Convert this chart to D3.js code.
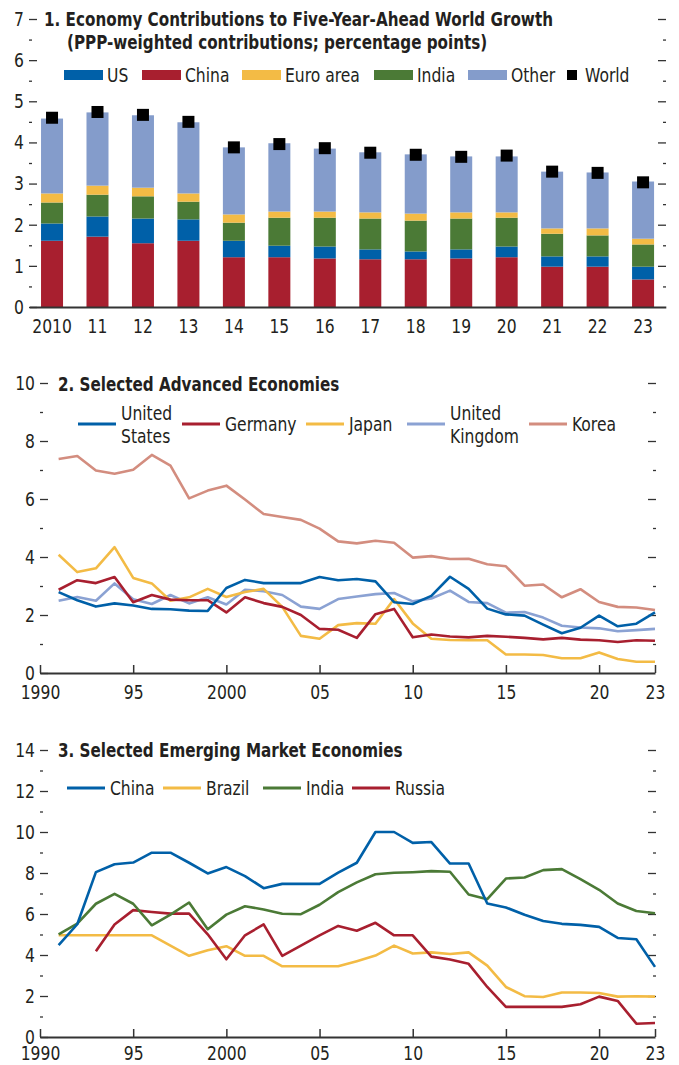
<!DOCTYPE html>
<html>
<head>
<meta charset="utf-8">
<script src="https://cdn.jsdelivr.net/npm/d3@7"></script>
<style>
  body { margin: 0; background: #fff; }
  svg text { font-family: 'Liberation Sans Narrow', 'Arial Narrow', 'DejaVu Sans Condensed', sans-serif; fill: #231f20; }
</style>
</head>
<body>
<div id="chart"></div>
<script>
// panel 1 data (percentage points)
var years1 = ["2010", "11", "12", "13", "14", "15", "16", "17", "18", "19", "20", "21", "22", "23"];
var china = [1.61, 1.71, 1.55, 1.61, 1.21, 1.21, 1.18, 1.16, 1.16, 1.18, 1.21, 0.98, 0.98, 0.67];
var us = [0.42, 0.49, 0.60, 0.52, 0.40, 0.28, 0.29, 0.24, 0.19, 0.22, 0.26, 0.25, 0.25, 0.31];
var india = [0.51, 0.53, 0.54, 0.43, 0.44, 0.68, 0.70, 0.75, 0.75, 0.75, 0.70, 0.55, 0.51, 0.54];
var euroArea = [0.22, 0.22, 0.21, 0.20, 0.20, 0.15, 0.15, 0.15, 0.17, 0.15, 0.13, 0.13, 0.17, 0.14];
var other = [1.82, 1.78, 1.76, 1.73, 1.63, 1.66, 1.53, 1.46, 1.44, 1.36, 1.36, 1.38, 1.36, 1.39];
var world = [4.60, 4.74, 4.67, 4.50, 3.88, 3.96, 3.86, 3.75, 3.70, 3.65, 3.68, 3.29, 3.26, 3.03];

// panels 2 and 3: 1991-2023
var years2 = d3.range(1991, 2024);
var usLine = [2.79, 2.51, 2.29, 2.40, 2.33, 2.21, 2.20, 2.15, 2.14, 2.93, 3.21, 3.10, 3.10, 3.10, 3.31,
  3.20, 3.24, 3.16, 2.44, 2.38, 2.66, 3.32, 2.90, 2.22, 2.02, 1.98, 1.67, 1.37, 1.56, 1.98, 1.61, 1.70, 2.09];
var germany = [2.87, 3.20, 3.10, 3.31, 2.44, 2.69, 2.53, 2.51, 2.51, 2.09, 2.61, 2.41, 2.28, 2.00, 1.52,
  1.49, 1.21, 2.03, 2.21, 1.23, 1.33, 1.26, 1.23, 1.28, 1.25, 1.21, 1.16, 1.21, 1.15, 1.13, 1.07, 1.13, 1.11];
var japan = [4.08, 3.48, 3.61, 4.34, 3.28, 3.09, 2.49, 2.61, 2.90, 2.62, 2.79, 2.90, 2.28, 1.28, 1.18,
  1.65, 1.72, 1.70, 2.55, 1.71, 1.18, 1.14, 1.13, 1.13, 0.64, 0.64, 0.62, 0.51, 0.51, 0.71, 0.48, 0.39, 0.39];
var uk = [2.49, 2.62, 2.49, 3.09, 2.54, 2.38, 2.69, 2.40, 2.61, 2.36, 2.87, 2.82, 2.69, 2.29, 2.21,
  2.55, 2.64, 2.72, 2.76, 2.47, 2.57, 2.84, 2.45, 2.41, 2.08, 2.10, 1.91, 1.63, 1.57, 1.54, 1.44, 1.48, 1.52];
var korea = [7.38, 7.48, 6.98, 6.87, 7.01, 7.52, 7.15, 6.02, 6.29, 6.46, 5.98, 5.48, 5.38, 5.28, 4.98,
  4.54, 4.47, 4.56, 4.49, 3.98, 4.03, 3.93, 3.94, 3.75, 3.68, 3.01, 3.05, 2.61, 2.89, 2.45, 2.28, 2.26, 2.17];

var chinaLine = [4.48, 5.50, 8.04, 8.43, 8.51, 8.99, 8.99, 8.50, 7.98, 8.29, 7.85, 7.26, 7.47, 7.47, 7.47,
  8.02, 8.50, 10.0, 10.0, 9.47, 9.51, 8.46, 8.46, 6.51, 6.32, 5.96, 5.66, 5.52, 5.47, 5.37, 4.83, 4.77, 3.42];
var brazil = [4.96, 4.96, 4.96, 4.96, 4.96, 4.96, 4.46, 3.96, 4.23, 4.43, 3.96, 3.96, 3.45, 3.45, 3.45,
  3.45, 3.70, 3.97, 4.46, 4.07, 4.13, 4.05, 4.13, 3.48, 2.44, 1.99, 1.95, 2.17, 2.17, 2.15, 1.97, 1.99, 1.97];
var indiaLine = [5.01, 5.53, 6.50, 6.98, 6.50, 5.45, 5.97, 6.56, 5.26, 5.97, 6.38, 6.22, 6.01, 5.99, 6.45,
  7.07, 7.54, 7.94, 8.01, 8.04, 8.09, 8.06, 6.95, 6.72, 7.73, 7.78, 8.14, 8.19, 7.70, 7.18, 6.51, 6.15, 6.04];
var russia = [null, null, 4.18, 5.49, 6.19, 6.10, 6.02, 6.02, 5.01, 3.79, 4.96, 5.49, 3.96, 4.46, 4.96,
  5.42, 5.18, 5.57, 4.96, 4.96, 3.92, 3.78, 3.57, 2.44, 1.47, 1.47, 1.47, 1.47, 1.60, 1.97, 1.76, 0.65, 0.68];

var xTicks = [1990, 1995, 2000, 2005, 2010, 2015, 2020, 2023];

var col = {
  blue: "#0060a8", red: "#a81f2f", yellow: "#f3bb45", green: "#4b7a36",
  lightBlue: "#849ccb", ukBlue: "#8ba2d3", korea: "#d38d7f"
};
var axisCol = "#333";

var svg = d3.select("#chart").append("svg")
  .attr("width", 679)
  .attr("height", 1065);

function yearLabel(y) {
  return (y == 1990 || y == 2000) ? String(y) : String(y).slice(2);
}

// left & right tick marks (major labelled, minor not)
function yTicks(y, left, right, max, step) {
  var major = d3.range(0, max + 0.001, step);
  var minor = d3.range(step / 2, max, step);
  svg.append("g")
    .attr("transform", "translate(" + left + ",0)")
    .call(d3.axisLeft(y).tickValues(major).tickSize(-8).tickPadding(5).tickFormat(d3.format("d")))
    .call(function(g) { g.select(".domain").remove(); })
    .call(function(g) {
      g.selectAll("line").attr("stroke", axisCol).attr("stroke-width", 1.3);
      g.selectAll("text").style("font-size", "20px").attr("fill", "#231f20");
    });
  svg.append("g")
    .attr("transform", "translate(" + left + ",0)")
    .call(d3.axisLeft(y).tickValues(minor).tickSize(-3).tickFormat(""))
    .call(function(g) { g.select(".domain").remove(); g.selectAll("line").attr("stroke", axisCol).attr("stroke-width", 1.3); });
  svg.append("g")
    .attr("transform", "translate(" + right + ",0)")
    .call(d3.axisRight(y).tickValues(major.slice(1)).tickSize(-8).tickFormat(""))
    .call(function(g) { g.select(".domain").remove(); g.selectAll("line").attr("stroke", axisCol).attr("stroke-width", 1.3); });
  svg.append("g")
    .attr("transform", "translate(" + right + ",0)")
    .call(d3.axisRight(y).tickValues(minor).tickSize(-3).tickFormat(""))
    .call(function(g) { g.select(".domain").remove(); g.selectAll("line").attr("stroke", axisCol).attr("stroke-width", 1.3); });
}

//=== Panel 1: stacked bars
var x1 = d3.scaleBand().domain(years1).range([29.3, 665.8]).paddingInner(0.516).paddingOuter(0.258);
var y1 = d3.scaleLinear().domain([0, 7]).range([307, 19]);

var rows = years1.map(function(yr, i) {
  return { year: yr, China: china[i], US: us[i], India: india[i], Euro: euroArea[i], Other: other[i], World: world[i] };
});
var stackKeys = ["China", "US", "India", "Euro", "Other"];
var stackCol = { China: col.red, US: col.blue, India: col.green, Euro: col.yellow, Other: col.lightBlue };
var stacked = d3.stack().keys(stackKeys)(rows);

yTicks(y1, 29, 666, 7, 1);

svg.append("g").selectAll("g")
  .data(stacked)
  .enter()
  .append("g")
  .attr("fill", function(d) { return stackCol[d.key]; })
  .selectAll("rect")
  .data(function(d) { return d; })
  .enter()
  .append("rect")
  .attr("x", function(d) { return x1(d.data.year); })
  .attr("width", x1.bandwidth())
  .attr("y", function(d) { return y1(d[1]); })
  .attr("height", function(d) { return y1(d[0]) - y1(d[1]); });

svg.append("g").selectAll("rect")
  .data(rows)
  .enter()
  .append("rect")
  .attr("x", function(d) { return x1(d.year) + x1.bandwidth() / 2 - 6; })
  .attr("y", function(d) { return y1(d.World) - 6; })
  .attr("width", 12)
  .attr("height", 12)
  .attr("fill", "#000");

svg.append("g")
  .attr("transform", "translate(0,307)")
  .call(d3.axisBottom(x1).tickSize(0).tickPadding(12))
  .call(function(g) {
    g.select(".domain").attr("stroke", axisCol).attr("stroke-width", 2);
    g.selectAll("text").style("font-size", "20px").attr("fill", "#231f20");
  });

svg.append("text").attr("x", 44).attr("y", 26)
  .style("font-size", "19.5px").style("font-weight", "bold")
  .text("1. Economy Contributions to Five-Year-Ahead World Growth");
svg.append("text").attr("x", 67).attr("y", 49)
  .style("font-size", "19.5px").style("font-weight", "bold")
  .text("(PPP-weighted contributions; percentage points)");

var legend1 = [
  { name: "US", c: col.blue, x: 64 },
  { name: "China", c: col.red, x: 142 },
  { name: "Euro area", c: col.yellow, x: 242 },
  { name: "India", c: col.green, x: 374 },
  { name: "Other", c: col.lightBlue, x: 468 }
];
var lg1 = svg.append("g").selectAll("g").data(legend1).enter().append("g");
lg1.append("rect")
  .attr("x", function(d) { return d.x; })
  .attr("y", 70).attr("width", 39).attr("height", 10)
  .attr("fill", function(d) { return d.c; });
lg1.append("text")
  .attr("x", function(d) { return d.x + 43; })
  .attr("y", 75).attr("dy", "0.35em")
  .style("font-size", "20px")
  .text(function(d) { return d.name; });
svg.append("rect").attr("x", 567).attr("y", 70).attr("width", 10).attr("height", 10).attr("fill", "#000");
svg.append("text").attr("x", 585).attr("y", 75).attr("dy", "0.35em").style("font-size", "20px").text("World");

//=== Line panels
function linePanel(opts) {
  var x = d3.scaleLinear().domain([1990, 2023]).range([40, 655]);
  var y = d3.scaleLinear().domain([0, opts.max]).range([opts.bottom, opts.top]);

  yTicks(y, 40, 656, opts.max, 2);

  svg.append("g")
    .attr("transform", "translate(0," + opts.bottom + ")")
    .call(d3.axisBottom(x).tickValues(xTicks).tickSize(-8).tickSizeOuter(0).tickPadding(opts.xPad).tickFormat(yearLabel))
    .call(function(g) {
      g.select(".domain").attr("stroke", axisCol).attr("stroke-width", 2);
      g.selectAll("line").attr("stroke", axisCol).attr("stroke-width", 1.5);
      g.selectAll("text").style("font-size", "20px").attr("fill", "#231f20");
    });

  var line = d3.line()
    .defined(function(d) { return d[1] != null; })
    .x(function(d) { return x(d[0]); })
    .y(function(d) { return y(d[1]); });

  opts.series.forEach(function(s) {
    svg.append("path")
      .datum(years2.map(function(yr, i) { return [yr, s.values[i]]; }))
      .attr("fill", "none")
      .attr("stroke", s.c)
      .attr("stroke-width", 2.6)
      .attr("stroke-linejoin", "round")
      .attr("d", line);
  });

  opts.legend.forEach(function(s) {
    svg.append("line")
      .attr("x1", s.lx).attr("x2", s.lx + 38)
      .attr("y1", opts.legendY).attr("y2", opts.legendY)
      .attr("stroke", s.c).attr("stroke-width", 3);
    var t = svg.append("text")
      .attr("x", s.lx + 43)
      .attr("y", opts.legendY)
      .style("font-size", "20px");
    if (s.name.length == 1) {
      t.attr("dy", "0.35em").text(s.name[0]);
    } else {
      t.append("tspan").attr("x", s.lx + 43).attr("dy", "-0.22em").text(s.name[0]);
      t.append("tspan").attr("x", s.lx + 43).attr("dy", "1.15em").text(s.name[1]);
    }
  });

  svg.append("text").attr("x", 58).attr("y", opts.titleY)
    .style("font-size", "19.5px").style("font-weight", "bold")
    .text(opts.title);
}

linePanel({
  top: 383, bottom: 673, max: 10, titleY: 391, legendY: 424, xPad: 12,
  title: "2. Selected Advanced Economies",
  series: [
    { c: col.korea, values: korea },
    { c: col.ukBlue, values: uk },
    { c: col.yellow, values: japan },
    { c: col.red, values: germany },
    { c: col.blue, values: usLine }
  ],
  legend: [
    { name: ["United", "States"], c: col.blue, lx: 78 },
    { name: ["Germany"], c: col.red, lx: 182 },
    { name: ["Japan"], c: col.yellow, lx: 306 },
    { name: ["United", "Kingdom"], c: col.ukBlue, lx: 407 },
    { name: ["Korea"], c: col.korea, lx: 529 }
  ]
});

linePanel({
  top: 750, bottom: 1037, max: 14, titleY: 757, legendY: 788, xPad: 9,
  title: "3. Selected Emerging Market Economies",
  series: [
    { c: col.yellow, values: brazil },
    { c: col.red, values: russia },
    { c: col.green, values: indiaLine },
    { c: col.blue, values: chinaLine }
  ],
  legend: [
    { name: ["China"], c: col.blue, lx: 67 },
    { name: ["Brazil"], c: col.yellow, lx: 163 },
    { name: ["India"], c: col.green, lx: 263 },
    { name: ["Russia"], c: col.red, lx: 352 }
  ]
});

// the reference face is a narrow one: squeeze the installed condensed face to its widths
function squeeze(el) {
  var w = el.getComputedTextLength();
  if (w > 0) d3.select(el).attr("textLength", w * 0.865).attr("lengthAdjust", "spacingAndGlyphs");
}
svg.selectAll("text").each(function() {
  if (d3.select(this).selectAll("tspan").size() == 0) squeeze(this);
});
svg.selectAll("tspan").each(function() { squeeze(this); });
</script>
</body>
</html>
